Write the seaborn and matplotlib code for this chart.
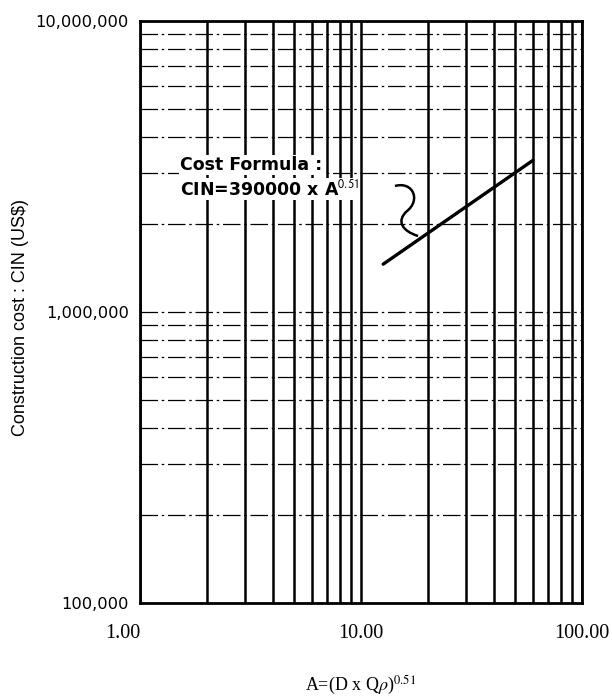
import numpy as np
import pandas as pd
import matplotlib
matplotlib.use("Agg")
import matplotlib.pyplot as plt
import seaborn as sns
from matplotlib.ticker import LogLocator, FixedLocator, FixedFormatter, NullFormatter
from matplotlib.path import Path
from matplotlib.patches import PathPatch

# Cost curve end points: A index vs construction cost (US$)
area_index = [12.6, 60.0]
construction_cost = [1.46e6, 3.32e6]

x_ticks = [1, 10, 100]
x_tick_labels = ["1.00", "10.00", "100.00"]
y_ticks = [1e5, 1e6, 1e7]
y_tick_labels = ["100,000", "1,000,000", "10,000,000"]

sns.set_theme(style="white")
plt.rcParams["font.family"] = ["DejaVu Sans"]
plt.rcParams["mathtext.fontset"] = "stix"

fig = plt.figure(figsize=(6.12, 6.98), dpi=100)
ax = fig.add_axes([140 / 612, 1 - 603 / 698, 442 / 612, 582 / 698])

df = pd.DataFrame({"A": area_index, "CIN": construction_cost})
sns.lineplot(data=df, x="A", y="CIN", ax=ax, color="black", lw=2.4, zorder=5)

ax.set_xscale("log")
ax.set_yscale("log")
ax.set_xlim(1, 100)
ax.set_ylim(1e5, 1e7)

# log grid: solid verticals, dash-dot horizontals
ax.xaxis.set_major_locator(FixedLocator(x_ticks))
ax.xaxis.set_major_formatter(FixedFormatter(x_tick_labels))
ax.xaxis.set_minor_locator(LogLocator(base=10, subs=np.arange(2, 10)))
ax.xaxis.set_minor_formatter(NullFormatter())
ax.yaxis.set_major_locator(FixedLocator(y_ticks))
ax.yaxis.set_major_formatter(FixedFormatter(y_tick_labels))
ax.yaxis.set_minor_locator(LogLocator(base=10, subs=np.arange(2, 10)))
ax.yaxis.set_minor_formatter(NullFormatter())

ax.grid(False)
ax.grid(which="both", axis="x", color="black", lw=1.8, ls="-", zorder=1)
ax.grid(which="both", axis="y", color="black", lw=0.9, ls=(0, (14, 3, 2, 3)), zorder=1)

for s in ax.spines.values():
    s.set_color("black")
    s.set_linewidth(2.0)

ax.tick_params(axis="both", which="both", length=0)
ax.tick_params(axis="x", pad=15)
ax.tick_params(axis="y", pad=8)
xlabels = ax.get_xticklabels()
for t in xlabels:
    t.set_family(["Liberation Serif"])
    t.set_fontsize(14.5)
    t.set_color("black")
xlabels[0].set_ha("right")
for t in ax.get_yticklabels():
    t.set_fontsize(11.7)
    t.set_color("black")

ax.set_xlabel(r"A=(D x Q$\rho$)$^{0.51}$", family=["Liberation Serif"], fontsize=13, color="black")
ax.xaxis.set_label_coords(0.5, -0.121)
ax.set_ylabel("Construction cost : CIN (US$)", family=["Liberation Sans"], fontsize=13, color="black")
ax.yaxis.set_label_coords(-0.25, 0.49)

# formula annotation
box = dict(facecolor="white", edgecolor="none", pad=0.5)
ax.text(0.0905, 0.7526, "Cost Formula :", transform=ax.transAxes, fontsize=12.5,
        fontweight="bold", va="center", ha="left", color="black", bbox=box, zorder=4)
ax.text(0.0905, 0.7113, r"CIN=390000 x A$^{\mathsf{0.51}}$", transform=ax.transAxes, fontsize=12.5,
        fontweight="bold", va="center", ha="left", color="black", bbox=box, zorder=4)

# curly connector from the formula to the cost line
verts = [(0.5769, 0.7165), (0.6176, 0.7251), (0.6357, 0.6924), (0.6041, 0.6735),
         (0.5792, 0.6564), (0.5928, 0.6392), (0.6290, 0.6306)]
codes = [Path.MOVETO, Path.CURVE4, Path.CURVE4, Path.CURVE4,
         Path.CURVE4, Path.CURVE4, Path.CURVE4]
ax.add_patch(PathPatch(Path(verts, codes), transform=ax.transAxes, facecolor="none",
                       edgecolor="black", lw=1.8, zorder=6))

fig.savefig("out.png", dpi=100)
